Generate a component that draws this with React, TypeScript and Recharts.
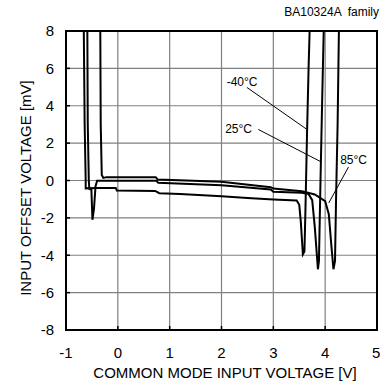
import React from 'react';
import {
  LineChart,
  Line,
  XAxis,
  YAxis,
  CartesianGrid,
  ReferenceArea,
  ReferenceLine,
  ReferenceDot,
  Label,
} from 'recharts';

const FONT = '"Liberation Sans", Arial, sans-serif';

const xTicks = [-1, 0, 1, 2, 3, 4, 5];
const yTicks = [-8, -6, -4, -2, 0, 2, 4, 6, 8];

// [common mode input voltage V, input offset voltage mV]
const minus40: number[][] = [
  [-0.66, 9], [-0.64, 3], [-0.62, 0], [-0.62, -0.42], [-0.4, -0.4], [-0.04, -0.4],
  [-0.02, -0.54], [0.72, -0.56], [0.8, -0.68], [1.2, -0.72], [2.0, -0.84],
  [2.5, -0.94], [3.0, -1.02], [3.45, -1.07], [3.5, -1.3], [3.53, -2.2],
  [3.57, -3.95], [3.6, -3.8], [3.62, -1.5], [3.65, 2.5], [3.68, 6], [3.71, 9],
];

const room25: number[][] = [
  [-0.59, 9], [-0.58, 3], [-0.56, 0], [-0.55, -0.45], [-0.51, -0.5],
  [-0.49, -2.1], [-0.46, -1.5], [-0.43, -0.3], [-0.4, -0.02], [0.74, -0.02],
  [0.78, -0.12], [2.0, -0.25], [2.95, -0.48], [3.0, -0.6], [3.55, -0.66],
  [3.68, -0.72], [3.75, -1.05], [3.8, -2.5], [3.86, -4.75], [3.88, -4.3],
  [3.91, 0], [3.94, 4], [3.98, 9],
];

const hot85: number[][] = [
  [-0.34, 9], [-0.33, 3], [-0.31, 0.3], [-0.28, 0.14], [-0.22, 0.18],
  [0.73, 0.18], [0.77, 0.05], [2.0, -0.07], [2.95, -0.36], [3.0, -0.43],
  [3.55, -0.57], [3.8, -0.75], [4.0, -1.1], [4.07, -1.8], [4.12, -3.5],
  [4.16, -4.75], [4.19, -4.3], [4.21, -1], [4.24, 3], [4.27, 9],
];

const toPoints = (pairs: number[][]) => pairs.map(([v, mv]) => ({ v, mv }));

const curves = [
  { name: '-40°C', data: toPoints(minus40) },
  { name: '25°C', data: toPoints(room25) },
  { name: '85°C', data: toPoints(hot85) },
];

// annotation text anchor (left, middle) and leader line ends
const notes = [
  { text: '-40°C', at: [2.1, 5.27], from: [2.49, 4.98], to: [3.64, 2.75] },
  { text: '25°C', at: [2.07, 2.78], from: [2.71, 2.73], to: [3.9, 1.03] },
  { text: '85°C', at: [4.29, 1.12], from: [4.45, 0.72], to: [4.07, -1.2] },
];

const YTitle = () => (
  <text
    x={25}
    y={188}
    transform="rotate(-90 25 188)"
    textAnchor="middle"
    dominantBaseline="central"
    fontSize={15}
    fontFamily={FONT}
    fill="#000"
  >
    INPUT OFFSET VOLTAGE [mV]
  </text>
);

const XTitle = () => (
  <text
    x={225}
    y={372}
    textAnchor="middle"
    dominantBaseline="central"
    fontSize={15}
    fontFamily={FONT}
    fill="#000"
  >
    COMMON MODE INPUT VOLTAGE [V]
  </text>
);

export default function App() {
  return (
    <div style={{ position: 'absolute', left: 0, top: 0, width: 380, height: 389, background: '#fff' }}>
      <LineChart
        width={380}
        height={389}
        margin={{ top: 31, right: 3, bottom: 29, left: 0 }}
        style={{ fontFamily: FONT }}
      >
        <CartesianGrid stroke="#808080" strokeWidth={1.2} horizontalValues={yTicks} verticalValues={xTicks} />
        <XAxis
          dataKey="v"
          type="number"
          domain={[-1, 5]}
          ticks={xTicks}
          allowDataOverflow
          height={30}
          tickSize={-4}
          tickMargin={21}
          axisLine={false}
          tickLine={{ stroke: '#000', strokeWidth: 1.5 }}
          tick={{ fill: '#000', fontSize: 15, fontFamily: FONT }}
        >
          <Label content={XTitle} />
        </XAxis>
        <YAxis
          dataKey="mv"
          type="number"
          domain={[-8, 8]}
          ticks={yTicks}
          allowDataOverflow
          width={66}
          tickSize={-4}
          tickMargin={16}
          axisLine={false}
          tickLine={{ stroke: '#000', strokeWidth: 1.5 }}
          tick={{ fill: '#000', fontSize: 15, fontFamily: FONT }}
        >
          <Label content={YTitle} />
        </YAxis>
        {curves.map((c) => (
          <Line
            key={c.name}
            data={c.data}
            dataKey="mv"
            type="linear"
            stroke="#000"
            strokeWidth={2}
            dot={false}
            activeDot={false}
            isAnimationActive={false}
          />
        ))}
        {notes.map((n) => (
          <ReferenceLine
            key={`leader-${n.text}`}
            segment={[
              { x: n.from[0], y: n.from[1] },
              { x: n.to[0], y: n.to[1] },
            ]}
            stroke="#000"
            strokeWidth={1}
          />
        ))}
        {notes.map((n) => (
          <ReferenceDot
            key={`note-${n.text}`}
            x={n.at[0]}
            y={n.at[1]}
            r={0}
            fill="none"
            stroke="none"
            label={{ value: n.text, position: 'right', offset: 0, fill: '#000', fontSize: 12, fontFamily: FONT }}
          />
        ))}
        <ReferenceArea x1={-1} x2={5} y1={-8} y2={8} fill="none" stroke="#000" strokeWidth={2} />
      </LineChart>
      <div
        style={{
          position: 'absolute',
          right: 1,
          top: 5,
          fontFamily: FONT,
          fontSize: 12,
          color: '#000',
          whiteSpace: 'pre',
        }}
      >
        BA10324A  family
      </div>
    </div>
  );
}
